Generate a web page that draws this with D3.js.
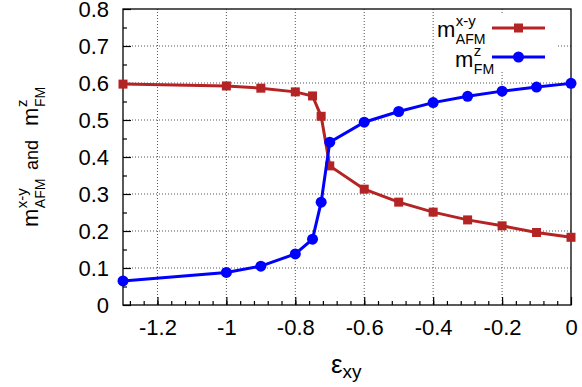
<!DOCTYPE html>
<html>
<head>
<meta charset="utf-8">
<script src="https://cdn.jsdelivr.net/npm/d3@7"></script>
<style>
  body { margin: 0; background: #fff; }
  text { font-family: "Liberation Sans", Arial, sans-serif; fill: #000; }
</style>
</head>
<body>
<div id="chart"></div>
<script>
// strain values (x axis)
var strain = [-1.3, -1.0, -0.9, -0.8, -0.75, -0.725, -0.7, -0.6, -0.5, -0.4, -0.3, -0.2, -0.1, 0];
// m_AFM^{x-y}
var mAFM = [0.597, 0.592, 0.586, 0.576, 0.565, 0.51, 0.376, 0.313, 0.278, 0.251, 0.230, 0.214, 0.196, 0.183];
// m_FM^z
var mFM = [0.065, 0.088, 0.105, 0.138, 0.178, 0.278, 0.44, 0.494, 0.523, 0.547, 0.564, 0.578, 0.589, 0.599];

var xTicks = [-1.2, -1, -0.8, -0.6, -0.4, -0.2, 0];
var yTicks = [0, 0.1, 0.2, 0.3, 0.4, 0.5, 0.6, 0.7, 0.8];

var width = 582, height = 387;
var pLeft = 123, pRight = 571, pTop = 9, pBottom = 305;
var red = "#b42424", blue = "#0000ff";

var svg = d3.select("#chart")
    .append("svg")
    .attr("width", width)
    .attr("height", height);

var x = d3.scaleLinear().domain([-1.3, 0]).range([pLeft, pRight]);
var y = d3.scaleLinear().domain([0, 0.8]).range([pBottom, pTop]);

// grid (dotted)
svg.append("g")
    .selectAll("line")
    .data(xTicks.filter(d => d > -1.3 && d < 0))
    .enter()
    .append("line")
    .attr("x1", d => x(d)).attr("x2", d => x(d))
    .attr("y1", pTop).attr("y2", pBottom)
    .attr("stroke", "#555").attr("stroke-width", 1)
    .attr("stroke-dasharray", "1,2");

svg.append("g")
    .selectAll("line")
    .data(yTicks.filter(d => d > 0 && d < 0.8))
    .enter()
    .append("line")
    .attr("x1", pLeft).attr("x2", pRight)
    .attr("y1", d => y(d)).attr("y2", d => y(d))
    .attr("stroke", "#555").attr("stroke-width", 1)
    .attr("stroke-dasharray", "1,2");

// legend background hides grid
svg.append("rect")
    .attr("x", 435).attr("y", 15)
    .attr("width", 122).attr("height", 55)
    .attr("fill", "#fff");

// axes with inward ticks
var xAxis = d3.axisBottom(x).tickValues(xTicks).tickSize(-8).tickPadding(14)
    .tickFormat(d => String(d));
var xMinor = d3.axisBottom(x).tickValues(d3.range(-1.28, 0, 0.04)).tickSize(-4).tickFormat("");
var yAxis = d3.axisLeft(y).tickValues(yTicks).tickSize(-8).tickPadding(14)
    .tickFormat(d => String(d));
var yMinor = d3.axisLeft(y).tickValues(d3.range(0.05, 0.8, 0.1)).tickSize(-4).tickFormat("");

function styleAxis(g) {
    g.select(".domain").remove();
    g.selectAll("line").attr("stroke", "#000").attr("stroke-width", 1.2);
    g.selectAll("text").style("font-size", "22px").attr("fill", "#000")
        .attr("font-family", "Liberation Sans, Arial, sans-serif");
}

svg.append("g").attr("transform", "translate(0," + pBottom + ")").call(xAxis).call(styleAxis);
svg.append("g").attr("transform", "translate(0," + pBottom + ")").call(xMinor).call(styleAxis);
svg.append("g").attr("transform", "translate(" + pLeft + ",0)").call(yAxis).call(styleAxis);
svg.append("g").attr("transform", "translate(" + pLeft + ",0)").call(yMinor).call(styleAxis);

// border
svg.append("rect")
    .attr("x", pLeft).attr("y", pTop)
    .attr("width", pRight - pLeft).attr("height", pBottom - pTop)
    .attr("fill", "none").attr("stroke", "#000").attr("stroke-width", 1.3);

// data
var afm = strain.map((s, i) => [s, mAFM[i]]);
var fm = strain.map((s, i) => [s, mFM[i]]);
var line = d3.line().x(d => x(d[0])).y(d => y(d[1]));

svg.append("path").datum(afm)
    .attr("d", line).attr("fill", "none")
    .attr("stroke", red).attr("stroke-width", 3);

svg.append("g").selectAll("rect")
    .data(afm).enter().append("rect")
    .attr("x", d => x(d[0]) - 4.5).attr("y", d => y(d[1]) - 4.5)
    .attr("width", 9).attr("height", 9)
    .attr("fill", red);

svg.append("path").datum(fm)
    .attr("d", line).attr("fill", "none")
    .attr("stroke", blue).attr("stroke-width", 3);

svg.append("g").selectAll("circle")
    .data(fm).enter().append("circle")
    .attr("cx", d => x(d[0])).attr("cy", d => y(d[1]))
    .attr("r", 5.5)
    .attr("fill", blue);

// draws m with superscript and subscript stacked, returns the width
function mLabel(g, px, py, sup, sub, size) {
    var m = g.append("text").attr("x", px).attr("y", py)
        .style("font-size", size + "px").text("m");
    var mw = m.node().getComputedTextLength();
    var a = g.append("text").attr("x", px + mw + 0.5).attr("y", py - size * 0.5)
        .style("font-size", (size * 0.68) + "px").text(sup);
    var b = g.append("text").attr("x", px + mw + 0.5).attr("y", py + size * 0.3)
        .style("font-size", (size * 0.64) + "px").text(sub);
    return mw + Math.max(a.node().getComputedTextLength(), b.node().getComputedTextLength());
}

// legend
var legend = svg.append("g");
mLabel(legend, 437, 37, "x-y", "AFM", 22);
mLabel(legend, 455, 67, "z", "FM", 22);

legend.append("line").attr("x1", 492).attr("x2", 545).attr("y1", 28).attr("y2", 28)
    .attr("stroke", red).attr("stroke-width", 3);
legend.append("rect").attr("x", 518.5 - 4.5).attr("y", 28 - 4.5)
    .attr("width", 9).attr("height", 9).attr("fill", red);
legend.append("line").attr("x1", 492).attr("x2", 545).attr("y1", 57).attr("y2", 57)
    .attr("stroke", blue).attr("stroke-width", 3);
legend.append("circle").attr("cx", 518.5).attr("cy", 57).attr("r", 5.5).attr("fill", blue);

// y axis title
var yt = svg.append("g").attr("transform", "translate(38,227) rotate(-90)");
var w1 = mLabel(yt, 0, 0, "x-y", "AFM", 22);
var andText = yt.append("text").attr("x", w1 + 9).attr("y", 0)
    .style("font-size", "18px").text("and");
var w2 = andText.node().getComputedTextLength();
mLabel(yt, w1 + 9 + w2 + 14, 0, "z", "FM", 22);

// x axis title
var xt = svg.append("text").attr("x", 331).attr("y", 373);
xt.append("tspan").style("font-size", "26px").text("\u03b5");
xt.append("tspan").attr("dy", 5).style("font-size", "19px").text("xy");
</script>
</body>
</html>
